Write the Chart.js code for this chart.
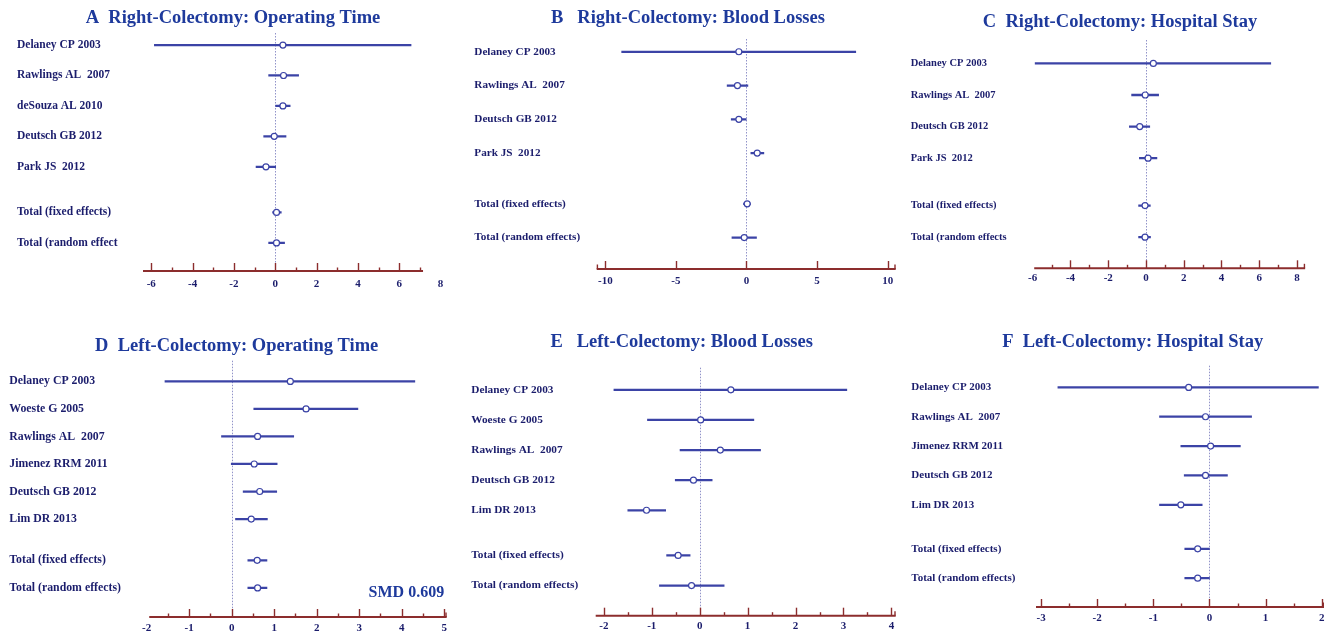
<!DOCTYPE html>
<html>
<head>
<meta charset="utf-8">
<script src="https://cdn.jsdelivr.net/npm/chart.js@4.4.1/dist/chart.umd.min.js"></script>
<style>
  html, body { margin: 0; padding: 0; background: #fff; overflow: hidden; }
  #wrap { position: relative; width: 1338px; height: 634px; overflow: hidden; }
  .panel { position: absolute; }
</style>
</head>
<body>
<div id="wrap"></div>
<script>
// A  Right-Colectomy: Operating Time
const studiesA = ['Delaney CP 2003', 'Rawlings AL  2007', 'deSouza AL 2010', 'Deutsch GB 2012', 'Park JS  2012'];
const totalsA = ['Total (fixed effects)', 'Total (random effect'];
const estA = [0.37, 0.40, 0.37, -0.05, -0.45, 0.06, 0.06];
const lowA = [-5.85, -0.32, 0.02, -0.56, -0.93, -0.13, -0.32];
const highA = [6.57, 1.13, 0.72, 0.52, 0.02, 0.29, 0.45];
const ticksA = [-6, -4, -2, 0, 2, 4, 6, 8];

// B  Right-Colectomy: Blood Losses
const studiesB = ['Delaney CP 2003', 'Rawlings AL  2007', 'Deutsch GB 2012', 'Park JS  2012'];
const totalsB = ['Total (fixed effects)', 'Total (random effects)'];
const estB = [-0.54, -0.64, -0.54, 0.76, 0.05, -0.16];
const lowB = [-8.84, -1.37, -1.08, 0.31, -0.21, -1.03];
const highB = [7.74, 0.10, -0.02, 1.23, 0.28, 0.71];
const ticksB = [-10, -5, 0, 5, 10];

// C  Right-Colectomy: Hospital Stay
const studiesC = ['Delaney CP 2003', 'Rawlings AL  2007', 'Deutsch GB 2012', 'Park JS  2012'];
const totalsC = ['Total (fixed effects)', 'Total (random effects'];
const estC = [0.39, -0.04, -0.33, 0.11, -0.05, -0.05];
const lowC = [-5.87, -0.76, -0.88, -0.35, -0.39, -0.39];
const highC = [6.61, 0.67, 0.20, 0.58, 0.23, 0.24];
const ticksC = [-6, -4, -2, 0, 2, 4, 6, 8];

// D  Left-Colectomy: Operating Time
const studiesD = ['Delaney CP 2003', 'Woeste G 2005', 'Rawlings AL  2007', 'Jimenez RRM 2011', 'Deutsch GB 2012', 'Lim DR 2013'];
const totalsD = ['Total (fixed effects)', 'Total (random effects)'];
const estD = [1.38, 1.75, 0.61, 0.53, 0.66, 0.46, 0.60, 0.61];
const lowD = [-1.57, 0.52, -0.24, -0.01, 0.27, 0.09, 0.38, 0.38];
const highD = [4.31, 2.97, 1.46, 1.07, 1.06, 0.84, 0.83, 0.83];
const ticksD = [-2, -1, 0, 1, 2, 3, 4, 5];
const smdD = 'SMD 0.609';

// E  Left-Colectomy: Blood Losses
const studiesE = ['Delaney CP 2003', 'Woeste G 2005', 'Rawlings AL  2007', 'Deutsch GB 2012', 'Lim DR 2013'];
const totalsE = ['Total (fixed effects)', 'Total (random effects)'];
const estE = [0.65, 0.02, 0.43, -0.13, -1.11, -0.45, -0.17];
const lowE = [-1.79, -1.09, -0.41, -0.51, -1.50, -0.69, -0.84];
const highE = [3.07, 1.13, 1.27, 0.26, -0.71, -0.20, 0.51];
const ticksE = [-2, -1, 0, 1, 2, 3, 4];

// F  Left-Colectomy: Hospital Stay
const studiesF = ['Delaney CP 2003', 'Rawlings AL  2007', 'Jimenez RRM 2011', 'Deutsch GB 2012', 'Lim DR 2013'];
const totalsF = ['Total (fixed effects)', 'Total (random effects)'];
const estF = [-0.37, -0.07, 0.02, -0.07, -0.51, -0.21, -0.21];
const lowF = [-2.70, -0.89, -0.51, -0.45, -0.89, -0.44, -0.44];
const highF = [1.94, 0.75, 0.55, 0.32, -0.13, 0.00, 0.00];
const ticksF = [-3, -2, -1, 0, 1, 2];

const FONT = '"Liberation Serif", "Times New Roman", serif';
const TITLE_COLOR = '#1e3a9c';
const LABEL_COLOR = '#1b1d6c';
const LINE_COLOR = '#3b43a6';
const AXIS_COLOR = '#8c2d2d';
const ZERO_COLOR = '#9193c9';
const TITLE_SIZE = 18.5;
const TICK_SIZE = 11;

// page-pixel layout of each panel (box = canvas position)
const panels = [
  { title: 'A  Right-Colectomy: Operating Time', titleX: 233, titleY: 18, studies: studiesA, totals: totalsA,
    est: estA, low: lowA, high: highA, ticks: ticksA, xMin: -6.4, xMax: 8, axisFrom: -6.4, axisTo: 7.15,
    major: 2, minor: 1, caps: [false, false], box: [0, 0, 466, 300], labelLeft: 17, plotLeft: 143, plotRight: 440.6,
    chartTop: 33, firstRow: 45, lastRow: 242, axisY: 270, tickY: 283, labelSize: 11.5 },
  { title: 'B   Right-Colectomy: Blood Losses', titleX: 688, titleY: 18.5, studies: studiesB, totals: totalsB,
    est: estB, low: lowB, high: highB, ticks: ticksB, xMin: -10.61, xMax: 10.57, axisFrom: -10.61, axisTo: 10.57,
    major: 5, minor: 0, caps: [true, true], box: [466, 0, 440, 300], labelLeft: 474.3, plotLeft: 596.7, plotRight: 895.7,
    chartTop: 39, firstRow: 51.7, lastRow: 236.7, axisY: 268, tickY: 280.5, labelSize: 11.2 },
  { title: 'C  Right-Colectomy: Hospital Stay', titleX: 1120, titleY: 22.7, studies: studiesC, totals: totalsC,
    est: estC, low: lowC, high: highC, ticks: ticksC, xMin: -6, xMax: 8.45, axisFrom: -5.92, axisTo: 8.43,
    major: 2, minor: 1, caps: [false, true], box: [906, 0, 432, 300], labelLeft: 910.7, plotLeft: 1032.7, plotRight: 1305.5,
    chartTop: 40, firstRow: 63.3, lastRow: 236.3, axisY: 267.3, tickY: 277.5, labelSize: 10.5 },
  { title: 'D  Left-Colectomy: Operating Time', titleX: 236.7, titleY: 346, studies: studiesD, totals: totalsD,
    est: estD, low: lowD, high: highD, ticks: ticksD, xMin: -2, xMax: 5.06, axisFrom: -1.94, axisTo: 5.06,
    major: 1, minor: 0.5, caps: [false, true], box: [0, 300, 460, 350], labelLeft: 9.3, plotLeft: 146.7, plotRight: 446.7,
    chartTop: 360.7, firstRow: 381.3, lastRow: 587, axisY: 616, tickY: 626.7, labelSize: 11.8,
    note: smdD, noteAt: [5, 7.67] },
  { title: 'E   Left-Colectomy: Blood Losses', titleX: 681.7, titleY: 342.3, studies: studiesE, totals: totalsE,
    est: estE, low: lowE, high: highE, ticks: ticksE, xMin: -2.17, xMax: 4.09, axisFrom: -2.17, axisTo: 4.09,
    major: 1, minor: 0.5, caps: [false, true], box: [460, 300, 446, 350], labelLeft: 471.3, plotLeft: 595.7, plotRight: 895.7,
    chartTop: 367.7, firstRow: 389.7, lastRow: 584.7, axisY: 614.7, tickY: 625, labelSize: 11.3 },
  { title: 'F  Left-Colectomy: Hospital Stay', titleX: 1132.7, titleY: 342.7, studies: studiesF, totals: totalsF,
    est: estF, low: lowF, high: highF, ticks: ticksF, xMin: -3.09, xMax: 2.04, axisFrom: -3.09, axisTo: 2.04,
    major: 1, minor: 0.5, caps: [false, true], box: [906, 300, 432, 350], labelLeft: 911.3, plotLeft: 1036, plotRight: 1324,
    chartTop: 365.7, firstRow: 387.3, lastRow: 577.3, axisY: 606, tickY: 616.7, labelSize: 11 }
];

const forestDecor = {
  id: 'forestDecor',
  beforeDatasetsDraw(chart, args, o) {
    const { ctx, chartArea: a, scales: { x } } = chart;
    const x0 = Math.round(x.getPixelForValue(0)) + 0.5;
    ctx.save();
    ctx.strokeStyle = ZERO_COLOR;
    ctx.lineWidth = 1;
    ctx.setLineDash([1.5, 1.5]);
    ctx.beginPath();
    ctx.moveTo(x0, a.top);
    ctx.lineTo(x0, a.bottom);
    ctx.stroke();
    ctx.restore();
  },
  afterDatasetsDraw(chart, args, o) {
    const { ctx, chartArea: a, scales: { x, y } } = chart;
    const yb = a.bottom;
    ctx.save();
    ctx.strokeStyle = AXIS_COLOR;
    ctx.lineWidth = 2;
    ctx.beginPath();
    ctx.moveTo(x.getPixelForValue(o.from), yb);
    ctx.lineTo(x.getPixelForValue(o.to), yb);
    ctx.stroke();

    // tick marks point up from the axis
    ctx.lineWidth = 1.4;
    const step = o.minor || o.major;
    for (let k = Math.ceil(o.from / step - 1e-9); k * step <= o.to + 1e-9; k++) {
      const v = k * step;
      const isMajor = Math.abs(v / o.major - Math.round(v / o.major)) < 1e-6;
      const px = Math.round(x.getPixelForValue(v)) + 0.5;
      ctx.beginPath();
      ctx.moveTo(px, yb);
      ctx.lineTo(px, yb - (isMajor ? 8 : 3.5));
      ctx.stroke();
    }
    [o.from, o.to].forEach((v, i) => {
      if (!o.caps[i]) return;
      const px = x.getPixelForValue(v) + (i ? -0.7 : 0.7);
      ctx.beginPath();
      ctx.moveTo(px, yb);
      ctx.lineTo(px, yb - 4.5);
      ctx.stroke();
    });

    if (o.note) {
      ctx.font = 'bold 16px ' + FONT;
      ctx.fillStyle = TITLE_COLOR;
      ctx.textAlign = 'right';
      ctx.textBaseline = 'middle';
      ctx.fillText(o.note, x.getPixelForValue(o.noteAt[0]), y.getPixelForValue(o.noteAt[1]));
    }

    ctx.font = 'bold ' + TITLE_SIZE + 'px ' + FONT;
    ctx.fillStyle = TITLE_COLOR;
    ctx.textAlign = 'center';
    ctx.textBaseline = 'middle';
    ctx.fillText(o.title, o.titleX, o.titleY);
    ctx.restore();
  }
};

const wrap = document.getElementById('wrap');

panels.forEach(p => {
  const [bx, by, bw, bh] = p.box;
  const holder = document.createElement('div');
  holder.className = 'panel';
  holder.style.cssText = `left:${bx}px;top:${by}px;width:${bw}px;height:${bh}px;`;
  const canvas = document.createElement('canvas');
  canvas.style.width = bw + 'px';
  canvas.style.height = bh + 'px';
  holder.appendChild(canvas);
  wrap.appendChild(holder);

  const labels = [...p.studies, ...p.totals];
  const n = p.studies.length;
  const rows = labels.map((_, i) => (i < n ? i : i + 0.5));
  const lastRow = rows[rows.length - 1];
  const rowPx = (p.lastRow - p.firstRow) / lastRow;
  const yMin = -(p.firstRow - p.chartTop) / rowPx;
  const yMax = lastRow + (p.axisY - p.lastRow) / rowPx;

  // Chart.js reserves the tick padding on both sides of the labels
  const tickPad = p.tickY - p.axisY - TICK_SIZE * 0.6;
  const xAxisHeight = 2 * tickPad + TICK_SIZE * 1.2 + 1;

  new Chart(canvas, {
    type: 'bar',
    data: {
      datasets: [
        {
          type: 'scatter',
          data: rows.map((r, i) => ({ x: p.est[i], y: r })),
          pointRadius: 3,
          pointBorderWidth: 1.2,
          pointBackgroundColor: '#ffffff',
          pointBorderColor: LINE_COLOR,
          order: 0
        },
        {
          type: 'bar',
          data: rows.map((r, i) => ({ x: [p.low[i], p.high[i]], y: r })),
          backgroundColor: LINE_COLOR,
          borderWidth: 0,
          barThickness: 1.6,
          order: 1
        }
      ]
    },
    options: {
      indexAxis: 'y',
      responsive: false,
      maintainAspectRatio: false,
      animation: false,
      events: [],
      layout: {
        padding: {
          left: p.labelLeft - bx,
          right: bx + bw - p.plotRight,
          top: p.chartTop - by,
          bottom: by + bh - p.axisY - xAxisHeight
        }
      },
      plugins: {
        legend: { display: false },
        tooltip: { enabled: false },
        forestDecor: {
          from: p.axisFrom, to: p.axisTo, major: p.major, minor: p.minor, caps: p.caps,
          note: p.note, noteAt: p.noteAt,
          title: p.title, titleX: p.titleX - bx, titleY: p.titleY - by
        }
      },
      scales: {
        x: {
          type: 'linear',
          min: p.xMin,
          max: p.xMax,
          beginAtZero: false,
          afterBuildTicks: s => { s.ticks = p.ticks.map(v => ({ value: v })); },
          grid: { display: false, drawTicks: false },
          border: { display: false },
          ticks: {
            autoSkip: false,
            maxRotation: 0,
            padding: tickPad,
            color: LABEL_COLOR,
            font: { family: FONT, size: TICK_SIZE, weight: 'bold' },
            callback: v => String(v)
          }
        },
        y: {
          type: 'linear',
          reverse: true,
          offset: false,
          min: yMin,
          max: yMax,
          afterBuildTicks: s => { s.ticks = rows.map(v => ({ value: v })); },
          afterFit: s => { s.width = p.plotLeft - p.labelLeft; },
          grid: { display: false, drawTicks: false },
          border: { display: false },
          ticks: {
            autoSkip: false,
            crossAlign: 'far',
            color: LABEL_COLOR,
            font: { family: FONT, size: p.labelSize, weight: 'bold' },
            callback: (v, i) => labels[i]
          }
        }
      }
    },
    plugins: [forestDecor]
  });
});
</script>
</body>
</html>
